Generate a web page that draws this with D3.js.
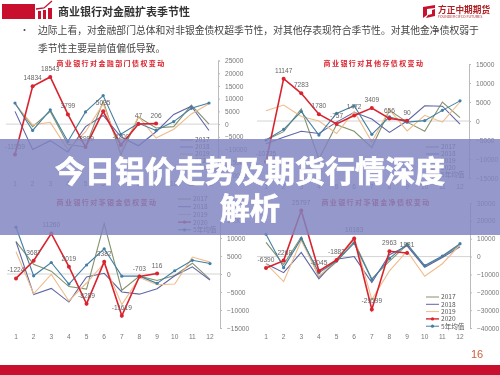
<!DOCTYPE html>
<html>
<head>
<meta charset="utf-8">
<script src="https://cdn.jsdelivr.net/npm/d3@7"></script>
<style>
html, body { margin: 0; padding: 0; background: #fff; }
svg { display: block; }
text { font-family: "Noto Sans CJK SC", "Noto Sans", sans-serif; }
.soft { filter: blur(0.4px); }
</style>
</head>
<body>
<div id="chart"></div>
<script>
const MONTHS = [1, 2, 3, 4, 5, 6, 7, 8, 9, 10, 11, 12];

const finance2017 = [8000, -1000, 5000, -8000, -9000, 9000, -12000, 2800, -1500, -1000, 7500, 0];
const finance2018 = [5000, -10000, -6500, -11000, -1000, 3400, -5000, -8500, -3000, 3800, 7000, -2500];
const finance2019 = [8000, -300, 700, -10000, -3000, 8000, -11000, 3000, -5500, -2000, 4000, 8000];
const finance2020 = [-11959, 14834, 18543, 3799, -8999, 5035, -8200, 47, 206];
const financeAvg = [8300, -2500, 5600, -6800, 4800, 11200, -4000, 300, -2500, 1000, 6200, 8300];
const financeLabels = ["-11959", "14834", "18543", "3799", "-8999", "5035", "-8200", "47", "206"];

const otherDeposit2017 = [-5000, -2800, 3200, -10000, -1000, -2700, -7000, 2800, -300, -2700, 5000, 900];
const otherDeposit2018 = [-6000, -4300, -2700, -3300, -300, 2300, 500, -3000, 0, 4000, 3900, -800];
const otherDeposit2019 = [2700, 4200, 1200, 0, -3300, 2500, -5500, 3000, -2600, 1500, -300, 5000];
const otherDeposit2020 = [-10735, 11147, 7283, 1780, -757, 1472, 3409, 656, 90];
const otherDepositAvg = [-5000, -2200, 2500, -3700, 2000, 4000, -3500, 1100, -300, 100, 2800, 5300];
const otherDepositLabels = ["-10735", "11147", "7283", "1780", "-757", "1472", "3409", "656", "90"];

const nonBank2017 = [9000, 2700, 800, -3500, -4200, 14000, -4500, -600, -1800, -400, 3000, -1500];
const nonBank2018 = [9000, -5700, -4000, -7800, -800, 200, -5000, -5600, -4100, -500, 2000, -1700];
const nonBank2019 = [6200, -5500, -100, -7500, -2500, 3000, -8500, -1000, -3000, -2800, 4700, 3300];
const nonBank2020 = [-1224, 3687, 11260, 2019, -8289, 3382, -11619, -703, 116];
const nonBankAvg = [13000, -500, 3200, -2800, 2500, 7000, -600, -600, -2600, 900, 3800, 2900];
const nonBankLabels = ["-1224", "3687", "11260", "2019", "-8289", "3382", "-11619", "-703", "116"];

const netBank2017 = [8000, -4500, 11000, -11500, -3000, 8500, -12500, -2500, 6500, -5500, 0, 6500];
const netBank2018 = [-4000, -9000, 2300, -12500, -1500, 0, -14500, 1000, 6000, -6000, -500, 5500];
const netBank2019 = [-4000, -14000, 9000, -11000, -2000, 11000, -24000, -8000, 3000, -11000, -4000, 6500];
const netBank2020 = [-6390, -2268, 25797, -8045, -1882, 10183, -29599, 2963, 1981];
const netBankAvg = [12500, -6200, 10000, -9000, -2500, 7500, -13000, -1000, 7000, -5000, 300, 7200];
const netBankLabels = ["-6390", "-2268", "25797", "-8045", "-1882", "10183", "-29599", "2963", "1981"];

const YEAR_NAMES = ["2017", "2018", "2019", "2020", "5年均值"];
const YEAR_COLORS = ["#84926c", "#5f65a5", "#f0bc8a", "#d9232e", "#437fa3"];

const panels = [
    {title: "商业银行对金融部门债权变动", titleX: 111, titleY: 66,
     x0: 15, x1: 209, axisX: 218, yTop: 60.5, yBottom: 175, domain: [-20000, 25000], step: 5000,
     series: [finance2017, finance2018, finance2019, finance2020, financeAvg], labels: financeLabels,
     legendX: 180, legendY: 140, legendStep: 7},
    {title: "商业银行对其他存债权变动", titleX: 374, titleY: 66,
     x0: 266, x1: 460, axisX: 469, yTop: 64, yBottom: 178, domain: [-15000, 15000], step: 5000,
     series: [otherDeposit2017, otherDeposit2018, otherDeposit2019, otherDeposit2020, otherDepositAvg], labels: otherDepositLabels,
     legendX: 426, legendY: 147, legendStep: 7},
    {title: "商业银行对非银金债权变动", titleX: 107, titleY: 205,
     x0: 16, x1: 210, axisX: 220, yTop: 220, yBottom: 328, domain: [-15000, 15000], step: 5000,
     series: [nonBank2017, nonBank2018, nonBank2019, nonBank2020, nonBankAvg], labels: nonBankLabels,
     legendX: 178, legendY: 199, legendStep: 7.7},
    {title: "商业银行对非银金净债权变动", titleX: 376, titleY: 205,
     x0: 266, x1: 460, axisX: 470, yTop: 203, yBottom: 328, domain: [-40000, 30000], step: 10000,
     series: [netBank2017, netBank2018, netBank2019, netBank2020, netBankAvg], labels: netBankLabels,
     legendX: 426, legendY: 297, legendStep: 7.3}
];

const svg = d3.select("#chart").append("svg")
    .attr("width", 500)
    .attr("height", 375);

const page = svg.append("g").attr("class", "soft");

const drawHeader = () => {
    page.append("rect").attr("x", 2).attr("y", 4).attr("width", 33).attr("height", 15).attr("fill", "#c8102e");
    page.append("path").attr("d", "M38 19v-8h3v8zM43 19V10h3v9zM48 19V8h4v11z").attr("fill", "#c8102e");
    page.append("path").attr("d", "M36 9l8-1 8-7").attr("fill", "none")
        .attr("stroke", "#c8102e").attr("stroke-width", 1.3);
    page.append("text").attr("x", 58).attr("y", 15.5).attr("font-size", 11).attr("font-weight", 700).attr("fill", "#333")
        .text("商业银行对金融扩表季节性");
    page.append("circle").attr("cx", 24.5).attr("cy", 30).attr("r", 1).attr("fill", "#444");
    page.append("text").attr("x", 38).attr("y", 33.8).attr("font-size", 9.8).attr("fill", "#444")
        .text("边际上看，对金融部门总体和对非银金债权超季节性，对其他存表现符合季节性。对其他金净债权弱于");
    page.append("text").attr("x", 38).attr("y", 51.5).attr("font-size", 9.8).attr("fill", "#444")
        .text("季节性主要是前值偏低导致。");
    page.append("path").attr("d", "M423 7l12-2v3l-8 1v6l-4 3zM435 9v7l-9 2 2-3 4-1V10z").attr("fill", "#c8102e");
    page.append("text").attr("x", 438).attr("y", 13).attr("font-size", 8.7).attr("font-weight", 700).attr("fill", "#b01f24")
        .text("方正中期期货");
    page.append("text").attr("x", 438).attr("y", 18).attr("font-size", 3.6).attr("fill", "#b01f24")
        .text("FOUNDER CIFCO FUTURES");
};

const drawPanel = (panel) => {
    const x = d3.scalePoint().domain(MONTHS).range([panel.x0, panel.x1]);
    const y = d3.scaleLinear().domain(panel.domain).range([panel.yBottom, panel.yTop]);
    const g = page.append("g");

    const ticks = d3.range(panel.domain[0], panel.domain[1] + 1, panel.step);
    const yAxis = d3.axisRight(y).tickValues(ticks).tickSize(2).tickPadding(5).tickFormat(d3.format("d"));
    const gy = g.append("g").attr("transform", "translate(" + panel.axisX + ",0)").call(yAxis);
    gy.selectAll("text").attr("font-size", 6.6).attr("fill", "#777").style("font-family", '"Liberation Sans", sans-serif');
    gy.selectAll("line, path").attr("stroke", "#bbb");

    g.append("line").attr("x1", panel.x0 - 9).attr("x2", panel.axisX)
        .attr("y1", y(0)).attr("y2", y(0)).attr("stroke", "#cfcfcf").attr("stroke-width", 0.9);

    g.selectAll("text.month").data(MONTHS).enter().append("text")
        .attr("class", "month")
        .attr("x", d => x(d)).attr("y", panel.yBottom + 11)
        .attr("text-anchor", "middle").attr("font-size", 6.6).attr("fill", "#777")
        .style("font-family", '"Liberation Sans", sans-serif')
        .text(d => d);

    const line = d3.line().x((d, i) => x(MONTHS[i])).y(d => y(d));
    [0, 1, 2, 4, 3].forEach((s) => {
        const values = panel.series[s];
        const strong = s === 3;
        g.append("path").attr("d", line(values)).attr("fill", "none")
            .attr("stroke", YEAR_COLORS[s]).attr("stroke-width", strong ? 1.6 : 1.1);
        if (s >= 3) {
            g.selectAll("circle.s" + s).data(values).enter().append("circle")
                .attr("class", "s" + s)
                .attr("cx", (d, i) => x(MONTHS[i])).attr("cy", d => y(d))
                .attr("r", strong ? 2 : 1.6).attr("fill", YEAR_COLORS[s]);
        }
    });

    g.selectAll("text.value").data(panel.labels).enter().append("text")
        .attr("class", "value")
        .attr("x", (d, i) => x(MONTHS[i])).attr("y", (d, i) => y(panel.series[3][i]) - 6)
        .attr("text-anchor", "middle").attr("font-size", 6.6).attr("fill", "#666")
        .style("font-family", '"Liberation Sans", sans-serif')
        .text(d => d);

    g.append("text").attr("x", panel.titleX).attr("y", panel.titleY)
        .attr("text-anchor", "middle").attr("font-size", 7).attr("font-weight", 700).attr("fill", "#d9232e")
        .attr("letter-spacing", 1.4)
        .text(panel.title);

    YEAR_NAMES.forEach((name, i) => {
        const ly = panel.legendY + i * panel.legendStep;
        g.append("line").attr("x1", panel.legendX).attr("x2", panel.legendX + 13)
            .attr("y1", ly).attr("y2", ly).attr("stroke", YEAR_COLORS[i]).attr("stroke-width", i === 3 ? 1.4 : 1);
        if (i >= 3) {
            g.append("circle").attr("cx", panel.legendX + 6.5).attr("cy", ly).attr("r", 1.6).attr("fill", YEAR_COLORS[i]);
        }
        g.append("text").attr("x", panel.legendX + 15).attr("y", ly + 2.4)
            .attr("font-size", 6.6).attr("fill", "#555").text(name);
    });
};

const drawFooter = () => {
    page.append("text").attr("x", 477).attr("y", 358).attr("font-size", 11).attr("fill", "#c8603a")
        .attr("text-anchor", "middle").style("font-family", '"Liberation Sans", sans-serif').text("16");
    page.append("rect").attr("x", 0).attr("y", 365).attr("width", 500).attr("height", 10).attr("fill", "#c8102e");
};

const drawBanner = () => {
    svg.append("rect").attr("x", 0).attr("y", 139).attr("width", 500).attr("height", 96)
        .attr("fill", "#7f84c0").attr("fill-opacity", 0.84);
    svg.selectAll("text.headline").data(["今日铝价走势及期货行情深度", "解析"]).enter().append("text")
        .attr("class", "headline")
        .attr("x", 250).attr("y", (d, i) => 182 + i * 37)
        .attr("text-anchor", "middle").attr("font-size", 30).attr("font-weight", 700).attr("fill", "#fff")
        .attr("stroke", "#fff").attr("stroke-width", 0.7)
        .text(d => d);
};

drawHeader();
panels.forEach(drawPanel);
drawFooter();
drawBanner();
</script>
</body>
</html>
